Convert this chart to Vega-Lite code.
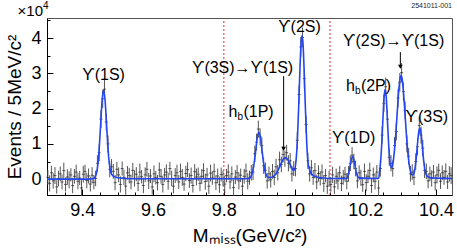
{
  "$schema": "https://vega.github.io/schema/vega-lite/v6.json",
  "width": 405,
  "height": 177,
  "autosize": {"type": "none"},
  "padding": {"left": 47, "top": 18, "right": 5, "bottom": 57},
  "config": {
    "font": "Liberation Sans",
    "view": {"stroke": "#555", "strokeWidth": 1},
    "axis": {"grid": false, "domainColor": "black", "tickColor": "black", "labelColor": "black", "titleColor": "black", "labelFont": "Liberation Sans", "titleFont": "Liberation Sans", "titleFontWeight": "normal"}
  },
  "datasets": {
    "bins": [
      {"m":9.3025,"v":0.05,"e":0.21},{"m":9.3075,"v":-0.12,"e":0.23},{"m":9.3125,"v":0.18,"e":0.2},{"m":9.3175,"v":-0.05,"e":0.22},{"m":9.3225,"v":0.10,"e":0.24},{"m":9.3275,"v":-0.22,"e":0.19},{"m":9.3325,"v":0.02,"e":0.22},{"m":9.3375,"v":0.15,"e":0.21},
      {"m":9.3425,"v":-0.08,"e":0.21},{"m":9.3475,"v":0.24,"e":0.23},{"m":9.3525,"v":-0.15,"e":0.2},{"m":9.3575,"v":0.06,"e":0.22},{"m":9.3625,"v":-0.02,"e":0.24},{"m":9.3675,"v":0.12,"e":0.19},{"m":9.3725,"v":-0.18,"e":0.22},{"m":9.3775,"v":0.08,"e":0.21},
      {"m":9.3825,"v":0.20,"e":0.21},{"m":9.3875,"v":-0.06,"e":0.23},{"m":9.3925,"v":0.03,"e":0.2},{"m":9.3975,"v":-0.25,"e":0.22},{"m":9.4025,"v":0.14,"e":0.24},{"m":9.4075,"v":0.22,"e":0.19},{"m":9.4125,"v":-0.04,"e":0.22},{"m":9.4175,"v":0.09,"e":0.21},
      {"m":9.4225,"v":-0.14,"e":0.21},{"m":9.4275,"v":0.11,"e":0.23},{"m":9.4325,"v":-0.09,"e":0.2},{"m":9.4375,"v":0.02,"e":0.22},{"m":9.4425,"v":0.45,"e":0.23},{"m":9.4475,"v":0.75,"e":0.24},{"m":9.4525,"v":1.70,"e":0.25},{"m":9.4575,"v":2.28,"e":0.26},
      {"m":9.4625,"v":2.55,"e":0.26},{"m":9.4675,"v":1.62,"e":0.25},{"m":9.4725,"v":1.00,"e":0.24},{"m":9.4775,"v":0.28,"e":0.23},{"m":9.4825,"v":0.35,"e":0.22},{"m":9.4875,"v":0.22,"e":0.21},{"m":9.4925,"v":-0.10,"e":0.22},{"m":9.4975,"v":0.28,"e":0.21},
      {"m":9.5025,"v":0.12,"e":0.21},{"m":9.5075,"v":-0.15,"e":0.23},{"m":9.5125,"v":0.30,"e":0.2},{"m":9.5175,"v":0.05,"e":0.22},{"m":9.5225,"v":-0.20,"e":0.24},{"m":9.5275,"v":0.18,"e":0.19},{"m":9.5325,"v":0.10,"e":0.22},{"m":9.5375,"v":-0.08,"e":0.21},
      {"m":9.5425,"v":0.25,"e":0.21},{"m":9.5475,"v":0.02,"e":0.23},{"m":9.5525,"v":0.14,"e":0.2},{"m":9.5575,"v":-0.12,"e":0.22},{"m":9.5625,"v":0.20,"e":0.24},{"m":9.5675,"v":0.07,"e":0.19},{"m":9.5725,"v":-0.18,"e":0.22},{"m":9.5775,"v":0.12,"e":0.21},
      {"m":9.5825,"v":0.28,"e":0.21},{"m":9.5875,"v":-0.05,"e":0.23},{"m":9.5925,"v":0.09,"e":0.2},{"m":9.5975,"v":-0.22,"e":0.22},{"m":9.6025,"v":0.15,"e":0.24},{"m":9.6075,"v":0.04,"e":0.19},{"m":9.6125,"v":-0.10,"e":0.22},{"m":9.6175,"v":0.26,"e":0.21},
      {"m":9.6225,"v":0.08,"e":0.21},{"m":9.6275,"v":-0.15,"e":0.23},{"m":9.6325,"v":0.12,"e":0.2},{"m":9.6375,"v":0.20,"e":0.22},{"m":9.6425,"v":-0.06,"e":0.24},{"m":9.6475,"v":0.30,"e":0.19},{"m":9.6525,"v":0.02,"e":0.22},{"m":9.6575,"v":-0.20,"e":0.21},
      {"m":9.6625,"v":0.10,"e":0.21},{"m":9.6675,"v":0.18,"e":0.23},{"m":9.6725,"v":-0.08,"e":0.2},{"m":9.6775,"v":0.22,"e":0.22},{"m":9.6825,"v":0.05,"e":0.24},{"m":9.6875,"v":-0.14,"e":0.19},{"m":9.6925,"v":0.16,"e":0.22},{"m":9.6975,"v":0.27,"e":0.21},
      {"m":9.7025,"v":-0.04,"e":0.21},{"m":9.7075,"v":0.10,"e":0.23},{"m":9.7125,"v":-0.18,"e":0.2},{"m":9.7175,"v":0.21,"e":0.22},{"m":9.7225,"v":0.06,"e":0.24},{"m":9.7275,"v":0.14,"e":0.19},{"m":9.7325,"v":-0.12,"e":0.22},{"m":9.7375,"v":0.08,"e":0.21},
      {"m":9.7425,"v":0.24,"e":0.21},{"m":9.7475,"v":-0.07,"e":0.23},{"m":9.7525,"v":0.12,"e":0.2},{"m":9.7575,"v":-0.20,"e":0.22},{"m":9.7625,"v":0.17,"e":0.24},{"m":9.7675,"v":0.03,"e":0.19},{"m":9.7725,"v":0.22,"e":0.22},{"m":9.7775,"v":-0.10,"e":0.21},
      {"m":9.7825,"v":0.09,"e":0.21},{"m":9.7875,"v":-0.16,"e":0.23},{"m":9.7925,"v":0.13,"e":0.2},{"m":9.7975,"v":0.02,"e":0.22},{"m":9.8025,"v":-0.14,"e":0.24},{"m":9.8075,"v":0.10,"e":0.19},{"m":9.8125,"v":0.20,"e":0.22},{"m":9.8175,"v":-0.08,"e":0.21},
      {"m":9.8225,"v":0.15,"e":0.21},{"m":9.8275,"v":-0.24,"e":0.23},{"m":9.8325,"v":0.06,"e":0.2},{"m":9.8375,"v":0.18,"e":0.22},{"m":9.8425,"v":-0.05,"e":0.24},{"m":9.8475,"v":0.11,"e":0.19},{"m":9.8525,"v":-0.20,"e":0.22},{"m":9.8575,"v":0.08,"e":0.21},
      {"m":9.8625,"v":0.23,"e":0.21},{"m":9.8675,"v":-0.06,"e":0.23},{"m":9.8725,"v":0.04,"e":0.2},{"m":9.8775,"v":0.18,"e":0.22},{"m":9.8825,"v":0.20,"e":0.23},{"m":9.8875,"v":0.72,"e":0.23},{"m":9.8925,"v":1.05,"e":0.24},{"m":9.8975,"v":1.42,"e":0.24},
      {"m":9.9025,"v":1.20,"e":0.24},{"m":9.9075,"v":0.95,"e":0.23},{"m":9.9125,"v":0.38,"e":0.23},{"m":9.9175,"v":0.25,"e":0.22},{"m":9.9225,"v":-0.05,"e":0.22},{"m":9.9275,"v":0.15,"e":0.21},{"m":9.9325,"v":-0.02,"e":0.22},{"m":9.9375,"v":0.22,"e":0.21},
      {"m":9.9425,"v":0.05,"e":0.22},{"m":9.9475,"v":0.35,"e":0.23},{"m":9.9525,"v":0.18,"e":0.22},{"m":9.9575,"v":0.55,"e":0.23},{"m":9.9625,"v":0.42,"e":0.22},{"m":9.9675,"v":0.70,"e":0.23},{"m":9.9725,"v":0.58,"e":0.23},{"m":9.9775,"v":0.75,"e":0.22},
      {"m":9.9825,"v":0.45,"e":0.23},{"m":9.9875,"v":0.52,"e":0.22},{"m":9.9925,"v":0.15,"e":0.22},{"m":9.9975,"v":0.30,"e":0.21},{"m":10.0025,"v":0.30,"e":0.22},{"m":10.0075,"v":1.10,"e":0.24},{"m":10.0125,"v":2.40,"e":0.26},{"m":10.0175,"v":3.75,"e":0.28},
      {"m":10.0225,"v":4.02,"e":0.28},{"m":10.0275,"v":2.85,"e":0.27},{"m":10.0325,"v":1.55,"e":0.25},{"m":10.0375,"v":0.52,"e":0.23},{"m":10.0425,"v":0.15,"e":0.22},{"m":10.0475,"v":0.32,"e":0.22},{"m":10.0525,"v":0.05,"e":0.21},{"m":10.0575,"v":0.24,"e":0.22},
      {"m":10.0625,"v":-0.08,"e":0.21},{"m":10.0675,"v":0.16,"e":0.23},{"m":10.0725,"v":0.02,"e":0.2},{"m":10.0775,"v":0.20,"e":0.22},{"m":10.0825,"v":-0.12,"e":0.24},{"m":10.0875,"v":0.10,"e":0.19},{"m":10.0925,"v":-0.20,"e":0.22},{"m":10.0975,"v":0.02,"e":0.21},
      {"m":10.1025,"v":-0.15,"e":0.21},{"m":10.1075,"v":0.12,"e":0.23},{"m":10.1125,"v":-0.22,"e":0.2},{"m":10.1175,"v":0.08,"e":0.22},{"m":10.1225,"v":-0.05,"e":0.24},{"m":10.1275,"v":0.18,"e":0.19},{"m":10.1325,"v":-0.12,"e":0.22},{"m":10.1375,"v":0.05,"e":0.21},
      {"m":10.1425,"v":0.14,"e":0.21},{"m":10.1475,"v":-0.06,"e":0.23},{"m":10.1525,"v":0.15,"e":0.22},{"m":10.1575,"v":0.45,"e":0.22},{"m":10.1625,"v":0.68,"e":0.23},{"m":10.1675,"v":0.50,"e":0.22},{"m":10.1725,"v":0.30,"e":0.22},{"m":10.1775,"v":-0.05,"e":0.21},
      {"m":10.1825,"v":0.18,"e":0.21},{"m":10.1875,"v":0.04,"e":0.23},{"m":10.1925,"v":-0.16,"e":0.2},{"m":10.1975,"v":0.22,"e":0.22},{"m":10.2025,"v":-0.10,"e":0.24},{"m":10.2075,"v":0.08,"e":0.19},{"m":10.2125,"v":0.25,"e":0.22},{"m":10.2175,"v":-0.18,"e":0.21},
      {"m":10.2225,"v":0.12,"e":0.21},{"m":10.2275,"v":-0.06,"e":0.23},{"m":10.2325,"v":0.20,"e":0.2},{"m":10.2375,"v":-0.25,"e":0.22},{"m":10.2425,"v":0.30,"e":0.23},{"m":10.2475,"v":1.25,"e":0.24},{"m":10.2525,"v":2.15,"e":0.25},{"m":10.2575,"v":2.62,"e":0.26},
      {"m":10.2625,"v":1.70,"e":0.25},{"m":10.2675,"v":0.62,"e":0.24},{"m":10.2725,"v":0.45,"e":0.23},{"m":10.2775,"v":0.30,"e":0.23},{"m":10.2825,"v":0.95,"e":0.24},{"m":10.2875,"v":1.35,"e":0.25},{"m":10.2925,"v":2.30,"e":0.26},{"m":10.2975,"v":2.75,"e":0.26},
      {"m":10.3025,"v":3.02,"e":0.27},{"m":10.3075,"v":2.48,"e":0.26},{"m":10.3125,"v":1.95,"e":0.25},{"m":10.3175,"v":1.00,"e":0.24},{"m":10.3225,"v":0.65,"e":0.23},{"m":10.3275,"v":0.15,"e":0.22},{"m":10.3325,"v":0.20,"e":0.22},{"m":10.3375,"v":0.05,"e":0.22},
      {"m":10.3425,"v":0.50,"e":0.23},{"m":10.3475,"v":0.92,"e":0.24},{"m":10.3525,"v":1.52,"e":0.25},{"m":10.3575,"v":1.25,"e":0.24},{"m":10.3625,"v":0.88,"e":0.23},{"m":10.3675,"v":0.25,"e":0.22},{"m":10.3725,"v":0.22,"e":0.22},{"m":10.3775,"v":-0.05,"e":0.21},
      {"m":10.3825,"v":0.15,"e":0.21},{"m":10.3875,"v":0.02,"e":0.23},{"m":10.3925,"v":0.20,"e":0.2},{"m":10.3975,"v":-0.10,"e":0.22},{"m":10.4025,"v":0.12,"e":0.24},{"m":10.4075,"v":0.25,"e":0.19},{"m":10.4125,"v":-0.06,"e":0.22},{"m":10.4175,"v":0.18,"e":0.21},
      {"m":10.4225,"v":0.05,"e":0.21},{"m":10.4275,"v":0.22,"e":0.23},{"m":10.4325,"v":-0.08,"e":0.2},{"m":10.4375,"v":0.15,"e":0.22},{"m":10.4425,"v":0.10,"e":0.24}
    ],
    "fit": [
      {"m":9.300,"v":0.0},{"m":9.420,"v":0.0},{"m":9.430,"v":0.01},{"m":9.436,"v":0.06},{"m":9.440,"v":0.17},{"m":9.444,"v":0.43},{"m":9.448,"v":0.93},{"m":9.452,"v":1.62},{"m":9.456,"v":2.26},{"m":9.460,"v":2.52},{"m":9.464,"v":2.26},{"m":9.468,"v":1.62},{"m":9.472,"v":0.93},{"m":9.476,"v":0.45},{"m":9.480,"v":0.20},{"m":9.484,"v":0.12},{"m":9.490,"v":0.07},{"m":9.500,"v":0.04},{"m":9.520,"v":0.02},{"m":9.550,"v":0.01},
      {"m":9.870,"v":0.01},{"m":9.872,"v":0.02},{"m":9.878,"v":0.10},{"m":9.884,"v":0.34},{"m":9.890,"v":0.81},{"m":9.895,"v":1.21},{"m":9.899,"v":1.33},{"m":9.903,"v":1.21},{"m":9.908,"v":0.81},{"m":9.914,"v":0.34},{"m":9.920,"v":0.11},{"m":9.926,"v":0.05},{"m":9.932,"v":0.045},{"m":9.938,"v":0.063},{"m":9.944,"v":0.108},{"m":9.950,"v":0.19},{"m":9.956,"v":0.31},{"m":9.962,"v":0.45},{"m":9.968,"v":0.565},{"m":9.974,"v":0.61},{"m":9.980,"v":0.565},{"m":9.986,"v":0.45},{"m":9.992,"v":0.316},{"m":9.996,"v":0.25},{"m":10.000,"v":0.27},
      {"m":10.004,"v":0.52},{"m":10.008,"v":1.14},{"m":10.012,"v":2.19},{"m":10.015,"v":3.08},{"m":10.018,"v":3.80},{"m":10.021,"v":4.07},{"m":10.024,"v":3.80},{"m":10.027,"v":3.08},{"m":10.030,"v":2.17},{"m":10.034,"v":1.10},{"m":10.038,"v":0.46},{"m":10.042,"v":0.28},{"m":10.046,"v":0.17},{"m":10.052,"v":0.11},{"m":10.060,"v":0.07},{"m":10.070,"v":0.045},{"m":10.085,"v":0.03},{"m":10.100,"v":0.02},
      {"m":10.148,"v":0.02},{"m":10.150,"v":0.08},{"m":10.154,"v":0.21},{"m":10.158,"v":0.43},{"m":10.161,"v":0.58},{"m":10.164,"v":0.64},{"m":10.167,"v":0.58},{"m":10.170,"v":0.43},{"m":10.174,"v":0.21},{"m":10.178,"v":0.08},{"m":10.184,"v":0.03},
      {"m":10.238,"v":0.02},{"m":10.240,"v":0.20},{"m":10.242,"v":0.36},{"m":10.246,"v":0.93},{"m":10.250,"v":1.77},{"m":10.253,"v":2.33},{"m":10.256,"v":2.55},{"m":10.259,"v":2.34},{"m":10.262,"v":1.78},{"m":10.266,"v":0.96},{"m":10.270,"v":0.44},{"m":10.274,"v":0.33},{"m":10.278,"v":0.45},{"m":10.282,"v":0.78},{"m":10.286,"v":1.27},{"m":10.290,"v":1.87},{"m":10.294,"v":2.45},{"m":10.298,"v":2.84},{"m":10.301,"v":2.94},{"m":10.304,"v":2.84},{"m":10.308,"v":2.45},{"m":10.312,"v":1.87},{"m":10.316,"v":1.27},{"m":10.320,"v":0.77},{"m":10.324,"v":0.41},{"m":10.328,"v":0.21},{"m":10.332,"v":0.12},{"m":10.336,"v":0.13},
      {"m":10.340,"v":0.28},{"m":10.344,"v":0.61},{"m":10.348,"v":1.06},{"m":10.351,"v":1.34},{"m":10.354,"v":1.45},{"m":10.357,"v":1.34},{"m":10.360,"v":1.06},{"m":10.364,"v":0.61},{"m":10.368,"v":0.28},{"m":10.372,"v":0.13},{"m":10.378,"v":0.06},{"m":10.385,"v":0.04},{"m":10.400,"v":0.03},{"m":10.445,"v":0.02}
    ],
    "vlines": [{"m":9.8,"v":-0.45,"v2":4.57},{"m":10.1,"v":-0.45,"v2":4.57}],
    "arrows": [{"m":9.969,"v":2.92,"v2":0.86},{"m":10.299,"v":3.60,"v2":3.19}],
    "tips": [{"m":9.969,"v":0.86},{"m":10.299,"v":3.19}],
    "labels": [
      {"m":9.46,"v":2.95,"t":"ϒ(1S)"},
      {"m":9.853,"v":3.15,"t":"ϒ(3S)→ϒ(1S)"},
      {"m":10.014,"v":4.32,"t":"ϒ(2S)"},
      {"m":10.28,"v":3.92,"t":"ϒ(2S)→ϒ(1S)"},
      {"m":10.167,"v":1.16,"t":"ϒ(1D)"},
      {"m":10.374,"v":1.76,"t":"ϒ(3S)"}
    ],
    "hb": [
      {"m":9.878,"v":1.9,"n":"(1P)"},
      {"m":10.21,"v":2.64,"n":"(2P)"}
    ],
    "corner": [{"m":9.3,"v":4.57}],
    "tag": [{"m":10.445,"v":4.57,"t":"2541011-001"}]
  },
  "encoding": {
    "x": {"field": "m", "type": "quantitative",
      "scale": {"domain": [9.3, 10.445], "nice": false, "zero": false},
      "axis": {
        "values": [9.3,9.35,9.4,9.45,9.5,9.55,9.6,9.65,9.7,9.75,9.8,9.85,9.9,9.95,10,10.05,10.1,10.15,10.2,10.25,10.3,10.35,10.4],
        "labelExpr": "abs(datum.value*5 - round(datum.value*5)) < 0.001 ? format(datum.value, '~g') : ''",
        "tickSize": {"condition": {"test": "abs(datum.value*5 - round(datum.value*5)) < 0.001", "value": -6}, "value": -3},
        "labelPadding": 12,
        "labelFontSize": 18,
        "labelOverlap": false,
        "labelFlush": false,
        "title": "Mₘᵢₛₛ(GeV/c²)",
        "titleFontSize": 19,
        "titlePadding": 4
      }
    },
    "y": {"field": "v", "type": "quantitative",
      "scale": {"domain": [-0.45, 4.57], "nice": false, "zero": false},
      "axis": {
        "values": [0,0.5,1,1.5,2,2.5,3,3.5,4,4.5],
        "labelExpr": "datum.value % 1 == 0 ? format(datum.value, 'd') : ''",
        "tickSize": {"condition": {"test": "datum.value % 1 == 0", "value": -6}, "value": -3},
        "labelPadding": 12,
        "labelFontSize": 18,
        "labelOverlap": false,
        "labelFlush": false,
        "title": "Events / 5MeV/c²",
        "titleFontSize": 19,
        "titlePadding": 6
      }
    }
  },
  "layer": [
    {
      "data": {"name": "vlines"},
      "mark": {"type": "rule", "color": "#e3262b", "strokeDash": [2, 2], "strokeWidth": 1},
      "encoding": {"y2": {"field": "v2"}}
    },
    {
      "data": {"name": "bins"},
      "mark": {"type": "errorbar", "color": "#555555", "thickness": 1},
      "encoding": {"yError": {"field": "e"}}
    },
    {
      "data": {"name": "bins"},
      "mark": {"type": "tick", "orient": "horizontal", "size": 3, "thickness": 1, "color": "#222222"},
      "encoding": {}
    },
    {
      "data": {"name": "fit"},
      "mark": {"type": "line", "color": "#2346f2", "strokeWidth": 1.6, "interpolate": "monotone"},
      "encoding": {}
    },
    {
      "data": {"name": "arrows"},
      "mark": {"type": "rule", "color": "black", "strokeWidth": 1},
      "encoding": {"y2": {"field": "v2"}}
    },
    {
      "data": {"name": "tips"},
      "mark": {"type": "point", "shape": "triangle-down", "filled": true, "size": 22, "color": "black", "opacity": 1},
      "encoding": {}
    },
    {
      "data": {"name": "labels"},
      "mark": {"type": "text", "fontSize": 16, "color": "black", "align": "center", "baseline": "middle"},
      "encoding": {"text": {"field": "t"}}
    },
    {
      "data": {"name": "hb"},
      "mark": {"type": "text", "text": "h", "fontSize": 16, "color": "black", "align": "left", "baseline": "middle", "dx": -23},
      "encoding": {}
    },
    {
      "data": {"name": "hb"},
      "mark": {"type": "text", "text": "b", "fontSize": 10, "color": "black", "align": "left", "baseline": "middle", "dx": -14, "dy": 5},
      "encoding": {}
    },
    {
      "data": {"name": "hb"},
      "mark": {"type": "text", "fontSize": 16, "color": "black", "align": "left", "baseline": "middle", "dx": -8},
      "encoding": {"text": {"field": "n"}}
    },
    {
      "data": {"name": "corner"},
      "mark": {"type": "text", "text": "×10", "fontSize": 15, "color": "black", "align": "right", "baseline": "alphabetic", "dx": -4, "dy": -2, "clip": false},
      "encoding": {}
    },
    {
      "data": {"name": "corner"},
      "mark": {"type": "text", "text": "4", "fontSize": 10, "color": "black", "align": "left", "baseline": "alphabetic", "dx": -4, "dy": -9, "clip": false},
      "encoding": {}
    },
    {
      "data": {"name": "tag"},
      "mark": {"type": "text", "fontSize": 7, "color": "#222", "align": "right", "baseline": "alphabetic", "dy": -10, "clip": false},
      "encoding": {"text": {"field": "t"}}
    }
  ]
}
